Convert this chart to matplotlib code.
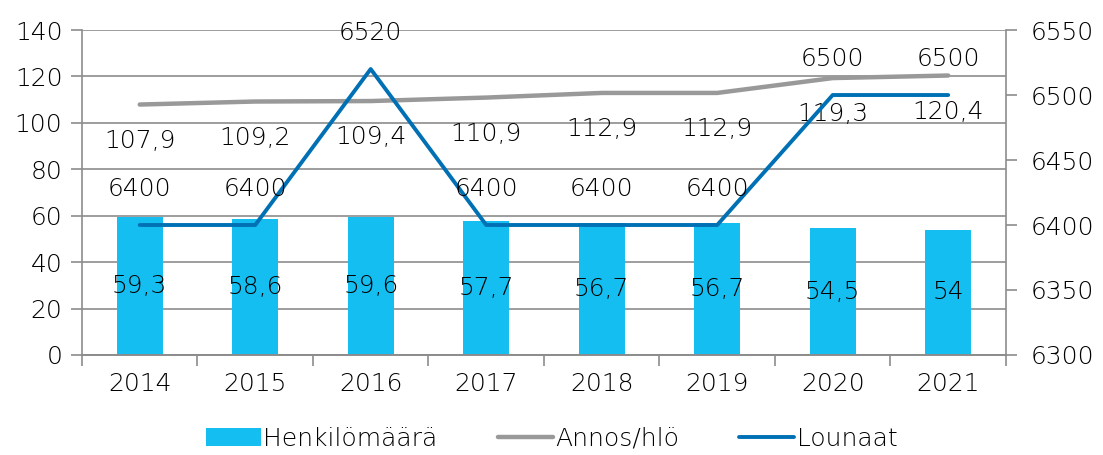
import matplotlib.pyplot as plt
import numpy as np

plt.rcParams['font.family'] = ['DejaVu Sans']
plt.rcParams['font.weight'] = 'light'

# data
years = ['2014', '2015', '2016', '2017', '2018', '2019', '2020', '2021']
henkilomaara = [59.3, 58.6, 59.6, 57.7, 56.7, 56.7, 54.5, 54]
annos_hlo = [107.9, 109.2, 109.4, 110.9, 112.9, 112.9, 119.3, 120.4]
lounaat = [6400, 6400, 6520, 6400, 6400, 6400, 6500, 6500]

bar_color = '#14BEF0'
gray_color = '#999999'
blue_color = '#0070B5'
axis_color = '#8C8C8C'
fs = 18

def fmt(v):
    return ('%g' % v).replace('.', ',')

fig = plt.figure(figsize=(11.03, 4.55), dpi=100)
ax = fig.add_axes([0.0743, 0.2198, 0.8377, 0.7142])
ax2 = ax.twinx()

x = np.arange(len(years))

# bars + gray line on left axis
bars = ax.bar(x, henkilomaara, width=0.4, color=bar_color, zorder=2)
gline, = ax.plot(x, annos_hlo, color=gray_color, lw=3.2, zorder=3, solid_capstyle='round')

# blue line on right axis
bline, = ax2.plot(x, lounaat, color=blue_color, lw=2.8, zorder=3, solid_capstyle='round')

ax.set_xlim(-0.5, len(years) - 0.5)
ax.set_ylim(0, 140)
ax.set_yticks(np.arange(0, 141, 20))
ax2.set_ylim(6300, 6550)
ax2.set_yticks(np.arange(6300, 6551, 50))

ax.grid(axis='y', color=axis_color, lw=1.2, zorder=0)
ax.set_axisbelow(True)

# x ticks: labels at categories, tick marks at boundaries
ax.set_xticks(x)
ax.set_xticklabels(years)
ax.tick_params(axis='x', length=0, pad=12, labelsize=fs)
ax.set_xticks(np.arange(-0.5, len(years), 1), minor=True)
ax.tick_params(axis='x', which='minor', length=8, width=1.2, color=axis_color)

ax.tick_params(axis='y', length=8, width=1.2, color=axis_color, labelsize=fs, pad=6)
ax2.tick_params(axis='y', length=8, width=1.2, color=axis_color, labelsize=fs, pad=10)

for a in (ax, ax2):
    a.spines['top'].set_visible(False)
    for side in ('left', 'right', 'bottom'):
        a.spines[side].set_color(axis_color)
        a.spines[side].set_linewidth(1.2)
ax2.spines['left'].set_visible(False)
ax.spines['right'].set_visible(False)

# data labels
for xi, v in zip(x, henkilomaara):
    ax.annotate(fmt(v), (xi, v / 2), ha='center', va='center', fontsize=fs, zorder=5)
for xi, v in zip(x, annos_hlo):
    ax.annotate(fmt(v), (xi, v), xytext=(0, -26), textcoords='offset points',
                ha='center', va='center', fontsize=fs, zorder=5)
for xi, v in zip(x, lounaat):
    ax2.annotate(fmt(v), (xi, v), xytext=(0, 26), textcoords='offset points',
                 ha='center', va='center', fontsize=fs, zorder=5)

fig.legend([bars, gline, bline], ['Henkilömäärä', 'Annos/hlö', 'Lounaat'],
           loc='lower center', bbox_to_anchor=(0.5, -0.04), ncol=3, frameon=False,
           fontsize=fs, handlelength=2.2, handletextpad=0.1, columnspacing=2.4)

fig.savefig('out.png', dpi=100)
